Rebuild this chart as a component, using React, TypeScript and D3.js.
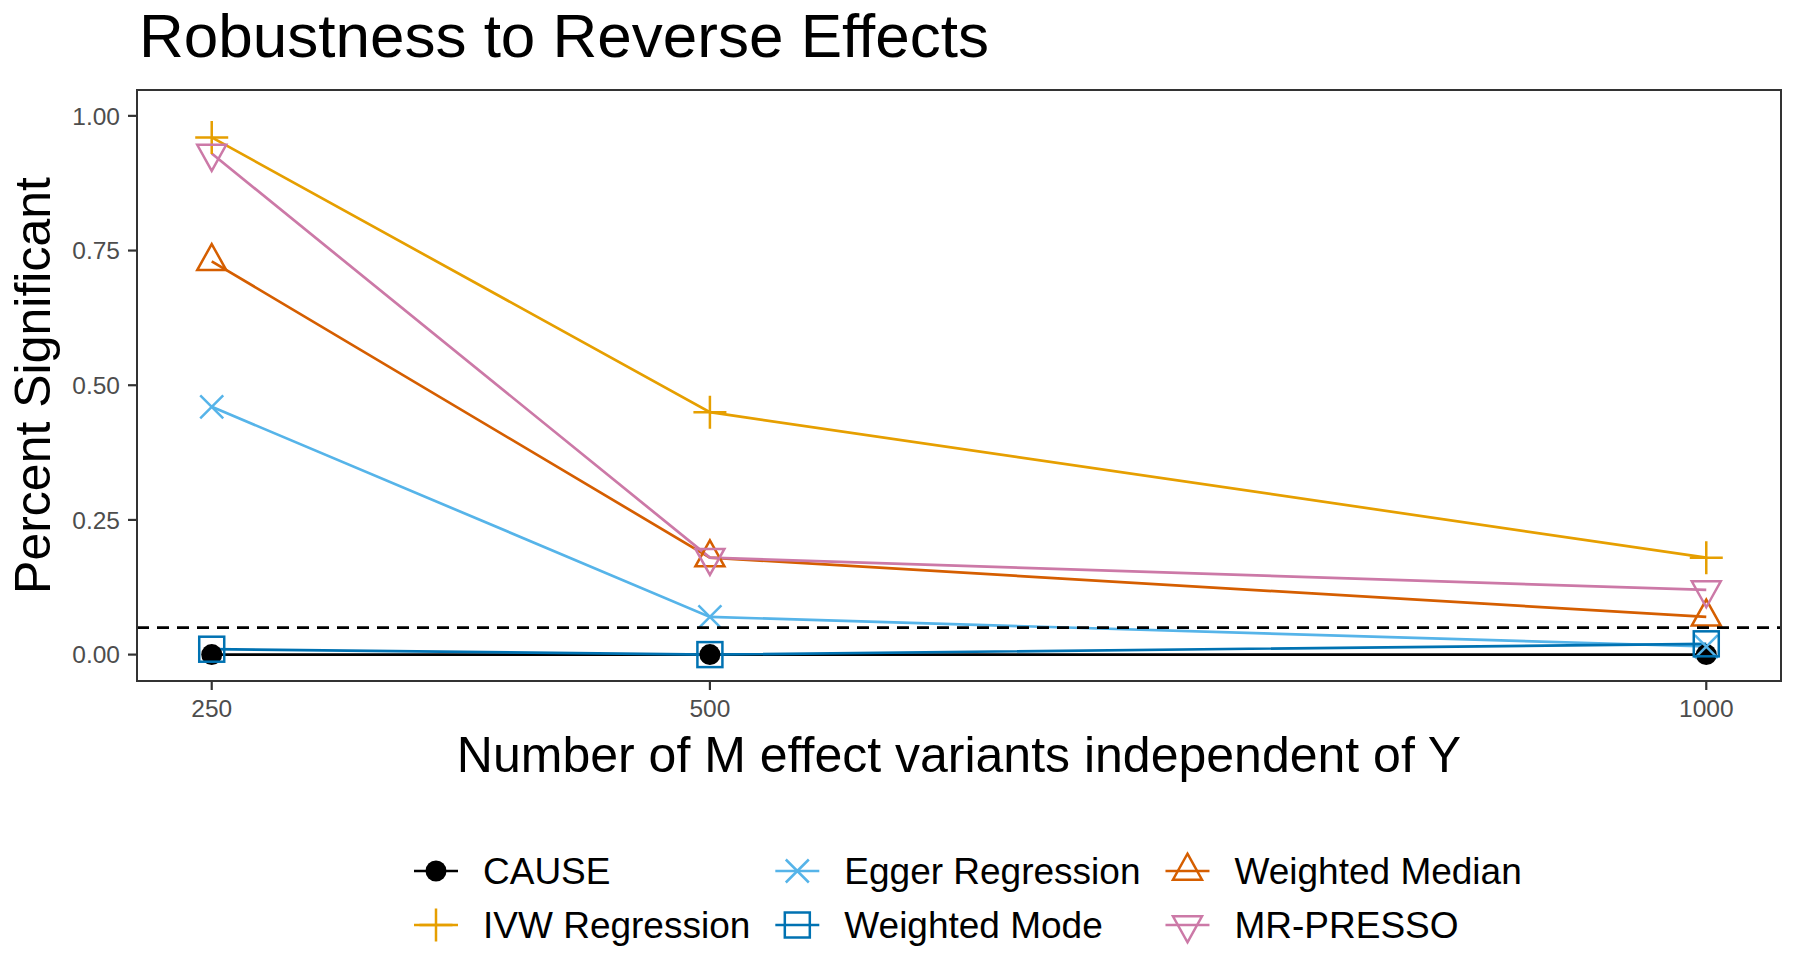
import React, { useEffect } from 'react';
import * as d3 from 'd3';

// values
const nVariants = [250, 500, 1000];
const methodNames = ['CAUSE', 'IVW Regression', 'Egger Regression', 'Weighted Mode', 'Weighted Median', 'MR-PRESSO'];
const causeValues = [0, 0, 0];
const ivwValues = [0.96, 0.45, 0.18];
const eggerValues = [0.46, 0.07, 0.015];
const modeValues = [0.01, 0, 0.02];
const medianValues = [0.73, 0.18, 0.07];
const pressoValues = [0.93, 0.18, 0.12];
const methodColors = ['#000000', '#E69F00', '#56B4E9', '#0072B2', '#D55E00', '#CC79A7'];
const methodShapes = ['circle', 'plus', 'cross', 'square', 'triangle', 'triangleDown'];
const xTicks = [250, 500, 1000];
const yTicks = [0, 0.25, 0.5, 0.75, 1];
const threshold = 0.05;

const title = 'Robustness to Reverse Effects';
const xTitle = 'Number of M effect variants independent of Y';
const yTitle = 'Percent Significant';

const FONT = '"Liberation Sans", Arial, Helvetica, sans-serif';

const width = 1800;
const height = 965;
const margin = { top: 90, right: 19, bottom: 284, left: 137 };

function textWidth(text, size) {
  const canvas = document.createElement('canvas');
  const ctx = canvas.getContext('2d');
  if (!ctx) return text.length * size * 0.55;
  ctx.font = `${size}px ${FONT}`;
  return ctx.measureText(text).width;
}

function Marker({ shape, color, x, y }) {
  const sw = 2.5;
  const t = `translate(${x},${y})`;
  if (shape === 'circle') return <circle transform={t} r={10.5} fill={color} />;
  if (shape === 'plus')
    return <path transform={t} d="M-16.5,0H16.5M0,-16.5V16.5" stroke={color} strokeWidth={sw} fill="none" />;
  if (shape === 'cross')
    return <path transform={t} d="M-11.5,-11.5L11.5,11.5M-11.5,11.5L11.5,-11.5" stroke={color} strokeWidth={sw} fill="none" />;
  if (shape === 'square')
    return <rect transform={t} x={-12.5} y={-12.5} width={25} height={25} stroke={color} strokeWidth={sw} fill="none" />;
  if (shape === 'triangle')
    return <path transform={t} d="M0,-17.3L14.5,8.7L-14.5,8.7Z" stroke={color} strokeWidth={sw} fill="none" />;
  return <path transform={t} d="M0,17.3L14.5,-8.7L-14.5,-8.7Z" stroke={color} strokeWidth={sw} fill="none" />;
}

const App = () => {
  useEffect(() => {
    document.body.style.margin = '0';
  }, []);

  const series = [causeValues, ivwValues, eggerValues, modeValues, medianValues, pressoValues];

  const x = d3.scaleLinear().domain([212.5, 1037.5]).range([margin.left, width - margin.right]);
  const y = d3.scaleLinear().domain([-0.049, 1.048]).range([height - margin.bottom, margin.top]);

  const line = d3
    .line()
    .x((d) => x(d[0]))
    .y((d) => y(d[1]));

  const panelLeft = margin.left;
  const panelRight = width - margin.right;
  const panelTop = margin.top;
  const panelBottom = height - margin.bottom;

  // legend: 2 rows, filled by column (like ggplot)
  const legendSize = 37;
  const keyW = 44;
  const keyGap = 25;
  const colGap = 25;
  const legendLeft = 414;
  const rowY = [871, 925];
  const cols = [];
  let cx = legendLeft;
  for (let c = 0; c < 3; c++) {
    const items = [c * 2, c * 2 + 1];
    const w = Math.max(...items.map((i) => textWidth(methodNames[i], legendSize)));
    cols.push({ x: cx, items });
    cx += keyW + keyGap + w + colGap;
  }

  return (
    <svg width={width} height={height} style={{ display: 'block', background: '#fff' }} fontFamily={FONT}>
      <text x={139} y={57} fontSize={62} fill="#000">{title}</text>

      {/* panel */}
      <rect x={panelLeft} y={panelTop} width={panelRight - panelLeft} height={panelBottom - panelTop} fill="#fff" />

      {/* y axis */}
      {yTicks.map((t) => (
        <g key={t}>
          <line x1={panelLeft - 9} x2={panelLeft} y1={y(t)} y2={y(t)} stroke="#333" strokeWidth={2.2} />
          <text x={panelLeft - 17} y={y(t)} dy="0.36em" textAnchor="end" fontSize={24.5} fill="#4D4D4D">
            {d3.format('.2f')(t)}
          </text>
        </g>
      ))}
      {/* x axis */}
      {xTicks.map((t) => (
        <g key={t}>
          <line x1={x(t)} x2={x(t)} y1={panelBottom} y2={panelBottom + 9} stroke="#333" strokeWidth={2.2} />
          <text x={x(t)} y={717} textAnchor="middle" fontSize={24.5} fill="#4D4D4D">
            {t}
          </text>
        </g>
      ))}

      <text x={(panelLeft + panelRight) / 2} y={772} textAnchor="middle" fontSize={50} fill="#000">
        {xTitle}
      </text>
      <text
        transform={`translate(50,${(panelTop + panelBottom) / 2}) rotate(-90)`}
        textAnchor="middle"
        fontSize={50}
        fill="#000"
      >
        {yTitle}
      </text>

      <g>
        {series.map((vals, i) => (
          <path
            key={methodNames[i]}
            d={line(nVariants.map((n, j) => [n, vals[j]]))}
            fill="none"
            stroke={methodColors[i]}
            strokeWidth={2.7}
          />
        ))}
        {series.map((vals, i) =>
          nVariants.map((n, j) => (
            <Marker key={`${i}-${j}`} shape={methodShapes[i]} color={methodColors[i]} x={x(n)} y={y(vals[j])} />
          ))
        )}
      </g>

      <line
        x1={panelLeft}
        x2={panelRight}
        y1={y(threshold)}
        y2={y(threshold)}
        stroke="#000"
        strokeWidth={2.8}
        strokeDasharray="12 8"
      />

      <rect
        x={panelLeft}
        y={panelTop}
        width={panelRight - panelLeft}
        height={panelBottom - panelTop}
        fill="none"
        stroke="#333"
        strokeWidth={2}
      />

      {/* legend */}
      {cols.map((col) =>
        col.items.map((i, r) => (
          <g key={methodNames[i]}>
            <line
              x1={col.x}
              x2={col.x + keyW}
              y1={rowY[r]}
              y2={rowY[r]}
              stroke={methodColors[i]}
              strokeWidth={2.7}
            />
            <Marker shape={methodShapes[i]} color={methodColors[i]} x={col.x + keyW / 2} y={rowY[r]} />
            <text x={col.x + keyW + keyGap} y={rowY[r]} dy="0.36em" fontSize={legendSize} fill="#000">
              {methodNames[i]}
            </text>
          </g>
        ))
      )}
    </svg>
  );
};

export default App;
